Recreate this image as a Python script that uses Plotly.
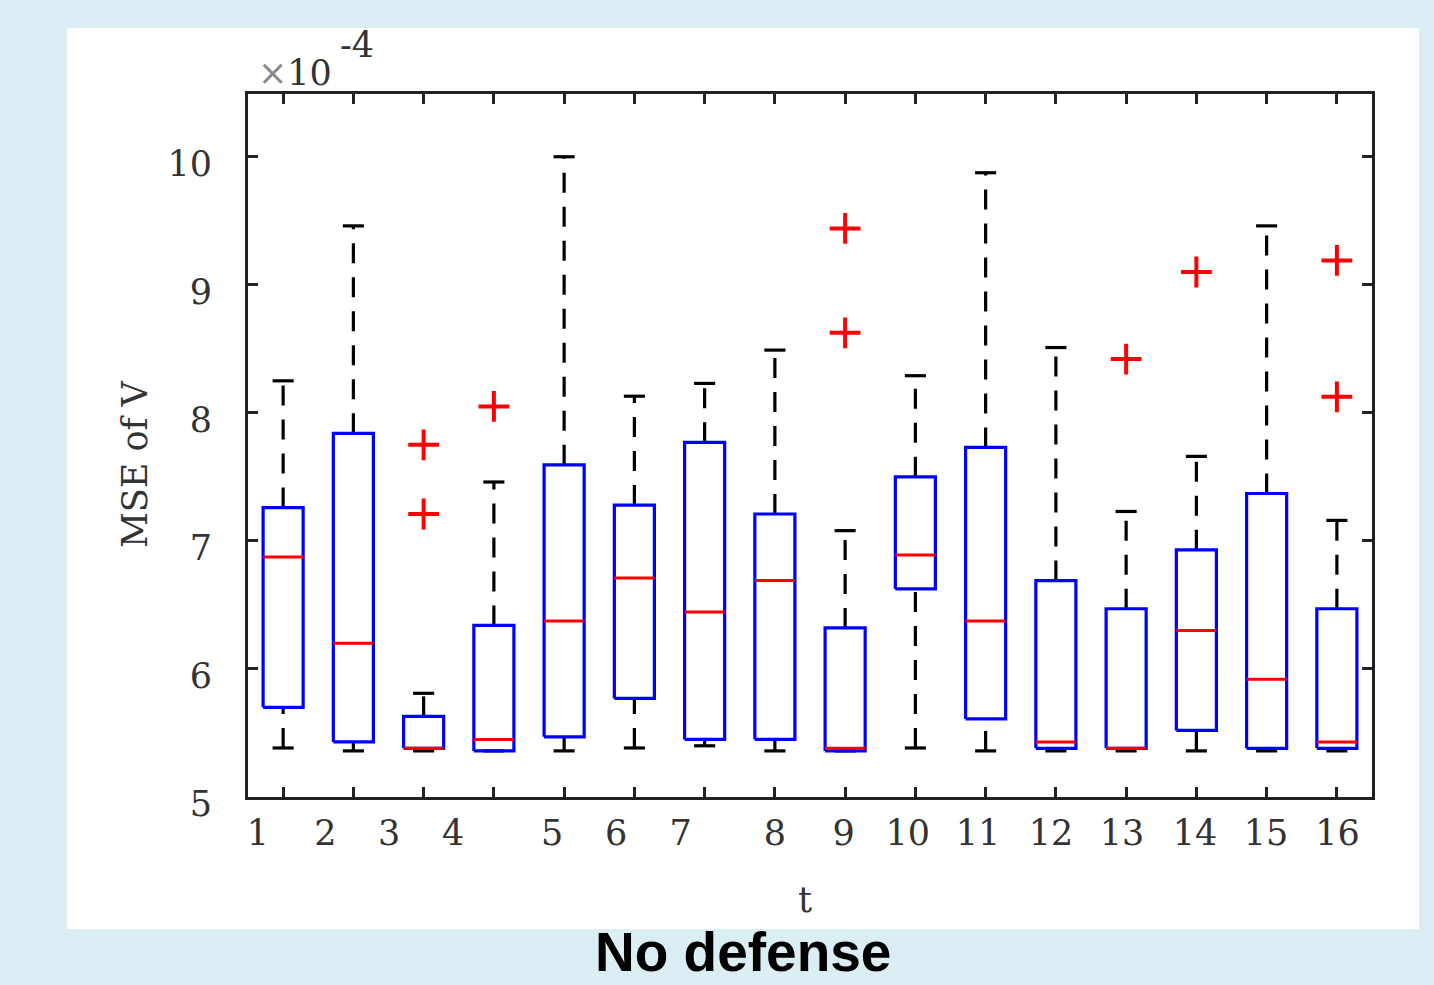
import plotly.graph_objects as go

# ---- data (values in units of 1e-4) ----
positions = list(range(1, 17))
q1 = [5.70, 5.43, 5.38, 5.36, 5.47, 5.77, 5.45, 5.45, 5.36, 6.625, 5.61, 5.38, 5.38, 5.52, 5.38, 5.38]
median = [6.875, 6.20, 5.38, 5.45, 6.375, 6.71, 6.445, 6.69, 5.38, 6.89, 6.375, 5.43, 5.38, 6.30, 5.92, 5.43]
q3 = [7.26, 7.84, 5.63, 6.34, 7.594, 7.28, 7.77, 7.21, 6.32, 7.50, 7.73, 6.69, 6.47, 6.93, 7.37, 6.47]
whisk_lo = [5.383, 5.36, 5.36, 5.36, 5.36, 5.383, 5.40, 5.36, 5.36, 5.383, 5.36, 5.36, 5.36, 5.36, 5.36, 5.36]
whisk_hi = [8.25, 9.46, 5.81, 7.46, 10.0, 8.13, 8.23, 8.49, 7.08, 8.29, 9.875, 8.51, 7.23, 7.66, 9.46, 7.16]
outlier_x = [3, 3, 4, 9, 9, 13, 14, 16, 16]
outlier_y = [7.75, 7.21, 8.05, 9.44, 8.625, 8.42, 9.10, 9.19, 8.125]

xtick_text = [str(i) for i in range(1, 17)]
xtick_label_pos = [0.64, 1.6, 2.51, 3.42, 4.83, 5.74, 6.66, 8.0, 8.98, 9.89, 10.89, 11.93, 12.94, 13.98, 14.99, 16.01]
ytick_vals = [5, 6, 7, 8, 9, 10]

BOX_HW = 0.285
CAP_HW = 0.15

# ---- build segment arrays from data ----
wx, wy = [], []   # dashed whiskers
cx, cy = [], []   # caps
bx, by = [], []   # boxes
mx, my = [], []   # medians
for p, a, m, b, lo, hi in zip(positions, q1, median, q3, whisk_lo, whisk_hi):
    wx += [p, p, None, p, p, None]
    wy += [b, hi, None, lo, a, None]
    cx += [p - CAP_HW, p + CAP_HW, None, p - CAP_HW, p + CAP_HW, None]
    cy += [hi, hi, None, lo, lo, None]
    bx += [p - BOX_HW, p + BOX_HW, p + BOX_HW, p - BOX_HW, p - BOX_HW, None]
    by += [a, a, b, b, a, None]
    mx += [p - BOX_HW, p + BOX_HW, None]
    my += [m, m, None]

fig = go.Figure()
fig.add_trace(go.Scatter(x=wx, y=wy, mode="lines", line=dict(color="black", width=3.2, dash="20px,14px"),
                         hoverinfo="skip", showlegend=False))
fig.add_trace(go.Scatter(x=cx, y=cy, mode="lines", line=dict(color="black", width=3.2),
                         hoverinfo="skip", showlegend=False))
fig.add_trace(go.Scatter(x=bx, y=by, mode="lines", line=dict(color="#0000FF", width=3.2),
                         hoverinfo="skip", showlegend=False))
fig.add_trace(go.Scatter(x=mx, y=my, mode="lines", line=dict(color="#FF0000", width=3),
                         hoverinfo="skip", showlegend=False))
fig.add_trace(go.Scatter(x=outlier_x, y=outlier_y, mode="markers",
                         marker=dict(symbol="cross-thin", size=22, line=dict(color="#FF0000", width=4)),
                         hoverinfo="skip", showlegend=False))
# invisible trace bound to label axis
fig.add_trace(go.Scatter(x=[1], y=[5], xaxis="x2", mode="markers", marker=dict(opacity=0),
                         hoverinfo="skip", showlegend=False))

FONT = "DejaVu Serif"
TXT = "#333333"
frame = "#222222"

fig.update_layout(
    width=1434, height=985,
    margin=dict(l=248, r=62, t=94, b=188),
    paper_bgcolor="#DAEEF3",
    plot_bgcolor="white",
    showlegend=False,
    xaxis=dict(range=[0.5, 16.5], tickvals=positions, showticklabels=False,
               ticks="inside", ticklen=10, tickwidth=3, tickcolor=frame,
               showline=True, linecolor=frame, linewidth=3, mirror="ticks",
               showgrid=False, zeroline=False, fixedrange=True),
    xaxis2=dict(range=[0.5, 16.5], overlaying="x", side="bottom", anchor="y",
                tickvals=xtick_label_pos, ticktext=xtick_text, ticks="",
                showline=False, showgrid=False, zeroline=False,
                ticklabelstandoff=12,
                tickfont=dict(family=FONT, size=35, color=TXT)),
    yaxis=dict(range=[5, 10.49], tickvals=ytick_vals, ticktext=[str(v) for v in ytick_vals],
               ticks="inside", ticklen=10, tickwidth=3, tickcolor=frame,
               showline=True, linecolor=frame, linewidth=3, mirror="ticks",
               showgrid=False, zeroline=False, ticklabelstandoff=26, ticklabelshift=7,
               tickfont=dict(family=FONT, size=35, color=TXT)),
    shapes=[dict(type="rect", xref="paper", yref="paper", x0=-0.161, x1=1.0418, y0=-0.1878, y1=1.0939,
                 fillcolor="white", line=dict(width=0), layer="below")],
    annotations=[
        dict(text="MSE of V", xref="paper", yref="paper", x=-0.1005, y=0.4737, textangle=-90,
             showarrow=False, font=dict(family=FONT, size=35, color=TXT), xanchor="center", yanchor="middle"),
        dict(text="t", xref="paper", yref="paper", x=0.4956, y=-0.1465, showarrow=False,
             font=dict(family=FONT, size=35, color=TXT), xanchor="center", yanchor="middle"),
        dict(text="<span style='color:#888888'>×</span>10", xref="paper", yref="paper", x=0.0418, y=1.0299,
             showarrow=False, font=dict(family=FONT, size=35, color=TXT), xanchor="center", yanchor="middle"),
        dict(text="-4", xref="paper", yref="paper", x=0.097, y=1.0697, showarrow=False,
             font=dict(family=FONT, size=35, color=TXT), xanchor="center", yanchor="middle"),
        dict(text="<b>No defense</b>", xref="paper", yref="paper", x=0.4404, y=-0.268, showarrow=False,
             font=dict(family="Liberation Sans", size=55, color="black"), xanchor="center", yanchor="bottom"),
    ],
)

fig.write_html("out.html", config={"displayModeBar": False})

# remove the browser's default body margin so the figure fills the window exactly
with open("out.html", "r", encoding="utf-8") as f:
    html = f.read()
html = html.replace("<body>", "<body style=\"margin:0;padding:0;overflow:hidden\">", 1)
with open("out.html", "w", encoding="utf-8") as f:
    f.write(html)
